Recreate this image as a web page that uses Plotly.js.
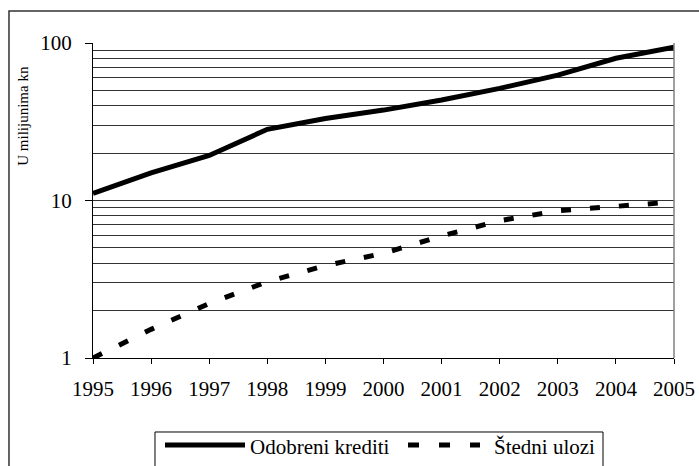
<!DOCTYPE html>
<html>
<head>
<meta charset="utf-8">
<script src="https://cdn.plot.ly/plotly-3.0.1.min.js"></script>
<style>html,body{margin:0;padding:0;background:#fff;}#chart{width:699px;height:466px;}</style>
</head>
<body>
<div id="chart"></div>
<script>
var years = [1995, 1996, 1997, 1998, 1999, 2000, 2001, 2002, 2003, 2004, 2005];
var odobreniKrediti = [11.1, 15.0, 19.3, 28.3, 33.2, 37.5, 43.5, 51.5, 62.5, 80, 94];
var stedniUlozi = [1.0, 1.52, 2.22, 3.05, 3.86, 4.62, 5.95, 7.45, 8.6, 9.14, 9.8];
var seriesNames = ['Odobreni krediti', 'Štedni ulozi'];
var yTickVals = [1, 10, 100];
var yTickText = ['1', '10', '100'];
var yMinorVals = [2, 3, 4, 5, 6, 7, 8, 9, 20, 30, 40, 50, 60, 70, 80, 90];
var yAxisTitle = 'U milijunima kn';

var FONT = 'Liberation Serif, serif';
var GRID = '#333333';

var traces = [
  {x: years, y: odobreniKrediti, name: seriesNames[0], type: 'scatter', mode: 'lines',
   line: {color: '#000', width: 5}},
  {x: years, y: stedniUlozi, name: seriesNames[1], type: 'scatter', mode: 'lines',
   line: {color: '#000', width: 5, dash: '10px,19px'}}
];

var layout = {
  width: 699, height: 466,
  margin: {l: 93, r: 25, t: 43, b: 108},
  paper_bgcolor: '#fff', plot_bgcolor: '#fff',
  showlegend: false,
  font: {family: FONT, size: 21, color: '#000'},
  xaxis: {
    range: [1995, 2005], tickmode: 'linear', tick0: 1995, dtick: 1,
    ticks: 'outside', ticklen: 5, tickcolor: '#000', tickwidth: 1,
    ticklabelstandoff: 7,
    showgrid: false, zeroline: false, showline: true, linecolor: '#000', linewidth: 1,
    tickfont: {family: FONT, size: 21, color: '#000'}
  },
  yaxis: {
    type: 'log', range: [0, 2],
    tickmode: 'array', tickvals: yTickVals, ticktext: yTickText,
    ticks: 'outside', ticklen: 7, tickcolor: '#000', tickwidth: 1,
    ticklabelstandoff: 9,
    showgrid: true, gridcolor: GRID, gridwidth: 1,
    minor: {tickmode: 'array', tickvals: yMinorVals, showgrid: true, gridcolor: GRID, gridwidth: 1, ticks: ''},
    zeroline: false, showline: true, linecolor: '#000', linewidth: 1,
    tickfont: {family: FONT, size: 21, color: '#000'}
  },
  shapes: [
    {type: 'line', xref: 'paper', yref: 'paper', x0: 1, x1: 1, y0: 0, y1: 1, line: {color: '#808080', width: 1.5}},
    {type: 'rect', xref: 'paper', yref: 'paper', x0: -0.1446, x1: 1.06, y0: -0.38, y1: 1.1016, line: {color: '#333', width: 1.5}},
    {type: 'rect', xref: 'paper', yref: 'paper', x0: 0.1067, x1: 0.8778, y0: -0.38, y1: -0.2349, line: {color: '#000', width: 1}},
    {type: 'line', xref: 'paper', yref: 'paper', x0: 0.1239, x1: 0.2616, y0: -0.2762, y1: -0.2762, line: {color: '#000', width: 5}},
    {type: 'line', xref: 'paper', yref: 'paper', x0: 0.5422, x1: 0.6661, y0: -0.2762, y1: -0.2762, line: {color: '#000', width: 5, dash: '11px,20px'}}
  ],
  annotations: [
    {xref: 'paper', yref: 'paper', x: -0.1205, y: 0.769, text: yAxisTitle, textangle: -90, showarrow: false,
     xanchor: 'center', yanchor: 'middle', font: {family: FONT, size: 15, color: '#000'}},
    {xref: 'paper', yref: 'paper', x: 0.2668, y: -0.2825, text: seriesNames[0], showarrow: false,
     xanchor: 'left', yanchor: 'middle', font: {family: FONT, size: 21, color: '#000'}},
    {xref: 'paper', yref: 'paper', x: 0.6867, y: -0.2825, text: seriesNames[1], showarrow: false,
     xanchor: 'left', yanchor: 'middle', font: {family: FONT, size: 21, color: '#000'}}
  ]
};

Plotly.newPlot('chart', traces, layout, {displayModeBar: false, staticPlot: true});
</script>
</body>
</html>
